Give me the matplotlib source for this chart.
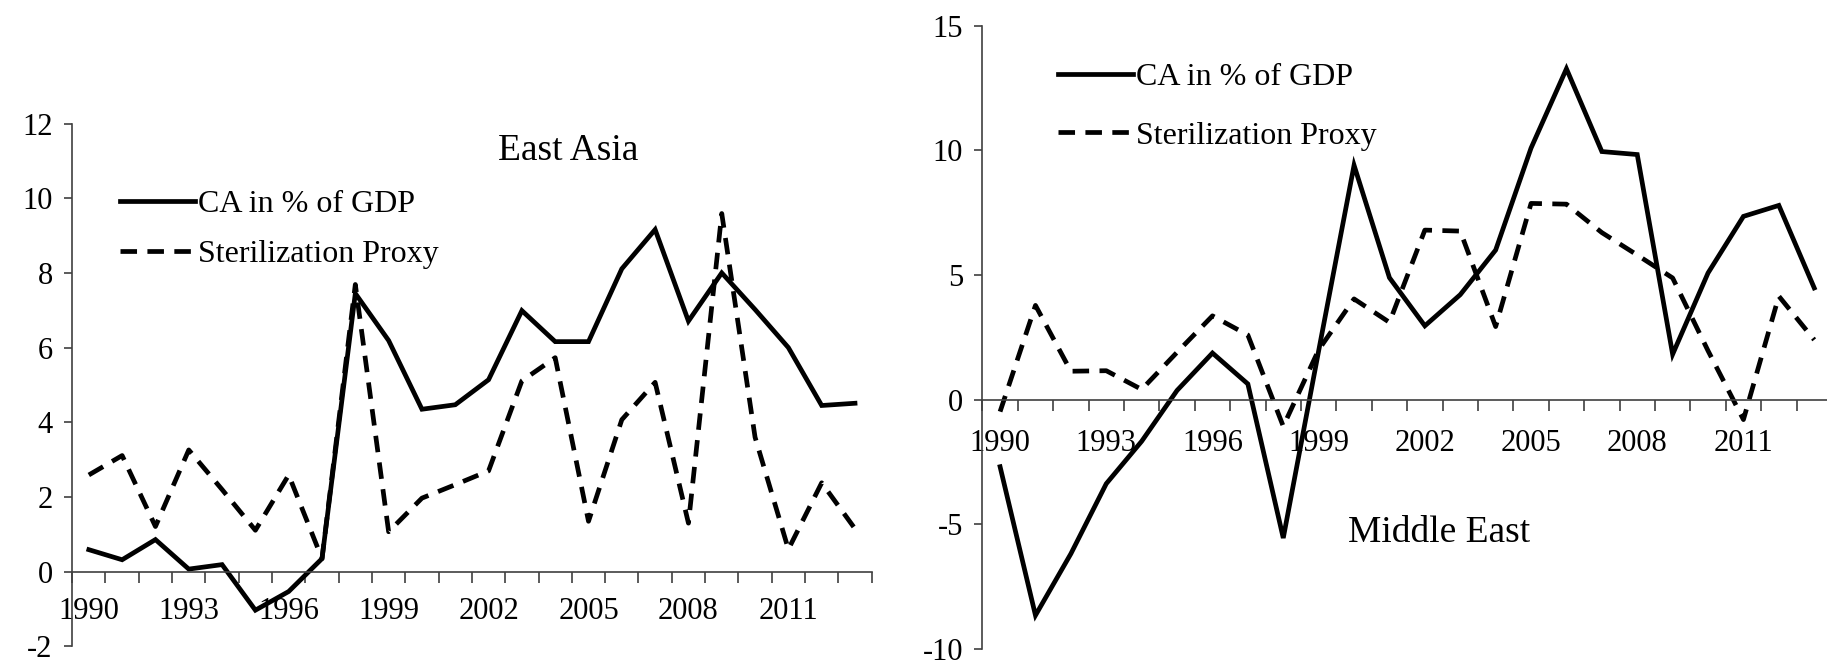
import numpy as np
import matplotlib
matplotlib.use("Agg")
import matplotlib.pyplot as plt

plt.rcParams['font.family'] = ['Liberation Serif', 'DejaVu Serif']
plt.rcParams['axes.unicode_minus'] = False

# data
years = list(range(1990, 2014))
tick_years = [1990, 1993, 1996, 1999, 2002, 2005, 2008, 2011]

ea_ca = [0.59, 0.32, 0.86, 0.07, 0.19, -1.03, -0.53, 0.35, 7.45, 6.19, 4.35, 4.47,
         5.14, 6.99, 6.16, 6.16, 8.11, 9.16, 6.71, 8.0, 7.02, 6.0, 4.45, 4.51]
ea_st = [2.59, 3.11, 1.21, 3.26, 2.2, 1.11, 2.59, 0.35, 7.69, 1.07, 1.97, 2.33,
         2.70, 5.11, 5.73, 1.35, 4.07, 5.07, 1.30, 9.59, 3.6, 0.6, 2.38, 1.15]

me_ca = [-2.69, -8.65, -6.18, -3.37, -1.67, 0.37, 1.87, 0.63, -5.55, 1.96, 9.40, 4.89,
         2.96, 4.21, 6.0, 10.09, 13.27, 9.95, 9.83, 1.82, 5.08, 7.35, 7.79, 4.48]
me_st = [-0.48, 3.78, 1.14, 1.16, 0.41, 1.9, 3.36, 2.59, -1.07, 2.0, 4.04, 3.1,
         6.80, 6.76, 2.93, 7.87, 7.84, 6.7, 5.8, 4.88, 1.96, -0.8, 4.15, 2.4]

x = np.arange(len(years))
axis_col = '#404040'

fig = plt.figure(figsize=(18.27, 6.64), dpi=100)
ax1 = fig.add_axes([0.0395, 0.0265, 0.4376, 0.7875])
ax2 = fig.add_axes([0.5377, 0.0226, 0.4650, 0.9388])


def style(ax, ylim, ystep, xpad):
    ax.set_xlim(-0.5, len(years) - 0.5)
    ax.set_ylim(*ylim)
    ax.set_yticks(np.arange(ylim[0], ylim[1] + 0.1, ystep))
    ax.spines['top'].set_visible(False)
    ax.spines['right'].set_visible(False)
    ax.spines['bottom'].set_position(('data', 0))
    for s in ['left', 'bottom']:
        ax.spines[s].set_color(axis_col)
        ax.spines[s].set_linewidth(1.2)
    # ticks between categories, labels at category centres
    ax.set_xticks(np.arange(len(years) + 1) - 0.5)
    ax.set_xticklabels([])
    ax.set_xticks([years.index(y) for y in tick_years], minor=True)
    ax.set_xticklabels([str(y) for y in tick_years], minor=True)
    ax.tick_params(axis='x', which='major', direction='out', length=8, width=1.2,
                   color=axis_col)
    ax.tick_params(axis='x', which='minor', length=0, pad=xpad, labelsize=22)
    ax.tick_params(axis='y', direction='out', length=6, width=1.2, color=axis_col,
                   labelsize=22, pad=8)


for ax, ca, st in [(ax1, ea_ca, ea_st), (ax2, me_ca, me_st)]:
    ax.plot(x, ca, color='black', lw=3.4, solid_joinstyle='miter',
            label='CA in % of GDP')
    ax.plot(x, st, color='black', lw=3.4, dashes=(3.5, 2.2),
            label='Sterilization Proxy')

style(ax1, (-2, 12), 2, 18.5)
style(ax2, (-10, 15), 5, 21)

ax1.text(14.4, 11.26, 'East Asia', fontsize=27, ha='center', va='center')
ax2.text(12.4, -5.32, 'Middle East', fontsize=27, ha='center', va='center')

ax1.legend(loc='upper left', bbox_to_anchor=(0.06, 0.874), frameon=False,
           fontsize=23, handlelength=2.35, handletextpad=0.1, labelspacing=0.65,
           borderpad=0, borderaxespad=0)
ax2.legend(loc='upper left', bbox_to_anchor=(0.089, 0.94), frameon=False,
           fontsize=23, handlelength=2.35, handletextpad=0.1, labelspacing=0.9,
           borderpad=0, borderaxespad=0)

fig.savefig('out.png', dpi=100)
